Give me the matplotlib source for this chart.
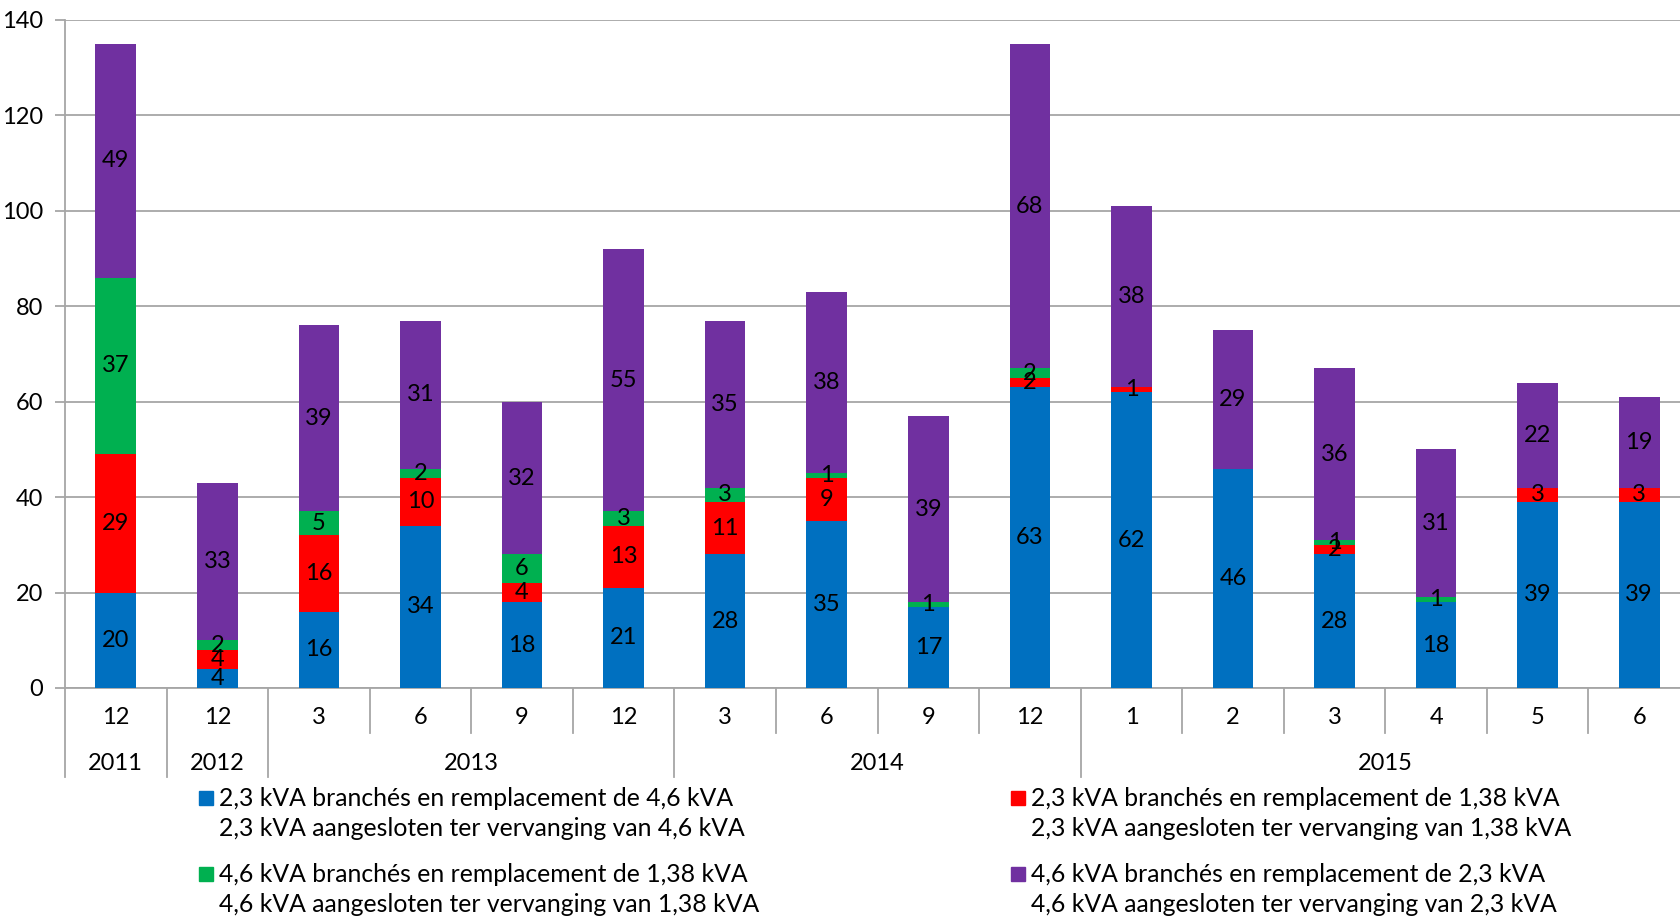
import matplotlib
matplotlib.use("Agg")
import matplotlib.pyplot as plt
import numpy as np
from matplotlib.patches import Rectangle
import matplotlib.transforms as mtransforms

plt.rcParams['font.family'] = ['Lato', 'DejaVu Sans']

months = ["12", "12", "3", "6", "9", "12", "3", "6", "9", "12", "1", "2", "3", "4", "5", "6"]
years = ["2011", "2012", "2013", "2014", "2015"]
year_spans = [(0, 1), (1, 2), (2, 6), (6, 10), (10, 16)]  # category index ranges

blue = [20, 4, 16, 34, 18, 21, 28, 35, 17, 63, 62, 46, 28, 18, 39, 39]
red = [29, 4, 16, 10, 4, 13, 11, 9, 0, 2, 1, 0, 2, 0, 3, 3]
green = [37, 2, 5, 2, 6, 3, 3, 1, 1, 2, 0, 0, 1, 1, 0, 0]
purple = [49, 33, 39, 31, 32, 55, 35, 38, 39, 68, 38, 29, 36, 31, 22, 19]

series = [blue, red, green, purple]
colors = ["#0070C0", "#FF0000", "#00B050", "#7030A0"]
legend_labels = [
    "2,3 kVA branchés en remplacement de 4,6 kVA\n2,3 kVA aangesloten ter vervanging van 4,6 kVA",
    "2,3 kVA branchés en remplacement de 1,38 kVA\n2,3 kVA aangesloten ter vervanging van 1,38 kVA",
    "4,6 kVA branchés en remplacement de 1,38 kVA\n4,6 kVA aangesloten ter vervanging van 1,38 kVA",
    "4,6 kVA branchés en remplacement de 2,3 kVA\n4,6 kVA aangesloten ter vervanging van 2,3 kVA",
]

W, H = 1680, 918
fig = plt.figure(figsize=(W / 100, H / 100), dpi=100)
ax_left, ax_right, ax_top, ax_bot = 65, 1690, 20, 688
ax = fig.add_axes([ax_left / W, 1 - ax_bot / H, (ax_right - ax_left) / W, (ax_bot - ax_top) / H])

x = np.arange(len(months))
bottom = np.zeros(len(months))
for vals, c in zip(series, colors):
    vals = np.array(vals, dtype=float)
    ax.bar(x, vals, width=0.4, bottom=bottom, color=c, zorder=3, linewidth=0)
    for xi, b, v in zip(x, bottom, vals):
        if v > 0:
            ax.text(xi, b + v / 2, f"{int(v)}", ha="center", va="center",
                    fontsize=17, color="black", zorder=4)
    bottom += vals

grid_c = "#A6A6A6"
ax.set_xlim(-0.5, len(months) - 0.5)
ax.set_ylim(0, 140)
ax.set_yticks(np.arange(0, 141, 20))
ax.yaxis.grid(True, color=grid_c, linewidth=1.3, zorder=0)
ax.set_axisbelow(True)
for s in ["top", "right"]:
    ax.spines[s].set_visible(False)
ax.spines["left"].set_color(grid_c)
ax.spines["left"].set_linewidth(1.3)
ax.spines["bottom"].set_color(grid_c)
ax.spines["bottom"].set_linewidth(1.3)
ax.tick_params(axis="y", length=7, width=1.3, color=grid_c, labelsize=17, pad=9)
ax.set_xticks([])

# multi-level category axis
axh = ax_bot - ax_top
trans = mtransforms.blended_transform_factory(ax.transData, ax.transAxes)
year_bounds = set()
for a, b in year_spans:
    year_bounds.add(a)
    year_bounds.add(b)
for k in range(len(months) + 1):
    xb = k - 0.5
    depth = 89 if k in year_bounds else 45
    ax.plot([xb, xb], [0, -depth / axh], transform=trans, color=grid_c,
            linewidth=1.3, clip_on=False)
for xi, m in zip(x, months):
    ax.text(xi, -30 / axh, m, transform=trans, ha="center", va="center", fontsize=17)
for (a, b), yr in zip(year_spans, years):
    ax.text((a + b - 1) / 2, -75 / axh, yr, transform=trans, ha="center", va="center", fontsize=17)

# legend
leg_pos = [(199, 798), (1011, 798), (199, 874), (1011, 874)]
for (lx, ly), c, lab in zip(leg_pos, colors, legend_labels):
    fig.patches.append(Rectangle((lx / W, 1 - (ly + 7) / H), 14 / W, 14 / H,
                                 transform=fig.transFigure, color=c, figure=fig))
    l1, l2 = lab.split("\n")
    fig.text((lx + 20) / W, 1 - ly / H, l1, ha="left", va="center", fontsize=17.8)
    fig.text((lx + 20) / W, 1 - (ly + 30) / H, l2, ha="left", va="center", fontsize=17.8)

fig.savefig("out.png", dpi=100)
